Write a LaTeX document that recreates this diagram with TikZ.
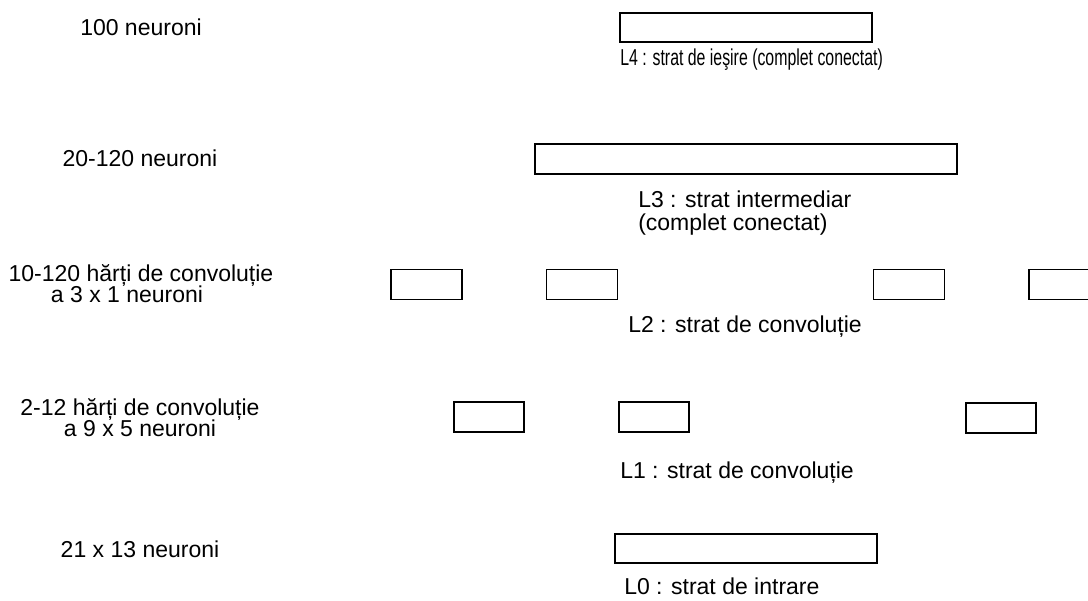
\documentclass[tikz,border=0pt]{standalone}
\usepackage{fontspec}
\setmainfont{Liberation Sans}
\begin{document}
\lineskiplimit=-20pt
\begin{tikzpicture}[x=0.75pt,y=-0.75pt,
  lbox/.style 2 args={draw=black, line width=0.95pt, inner sep=0pt,
    minimum width={#1*0.75pt}, minimum height={#2*0.75pt}},
  txt/.style={inner sep=0pt, font=\fontsize{17.25}{19}\selectfont},
  two/.style={txt, align=center, font=\fontsize{17.25}{15.75}\selectfont}]
\useasboundingbox (0,0) rectangle (1088,600);
\clip (0,0) rectangle (1088,600);
% left column
\node[txt, anchor=base] (n4) at (141,35) {100 neuroni};
\node[txt, anchor=base] (n3) at (140,166) {20-120 neuroni};
\node[two, anchor=north] (n2) at (141,264) {10-120 hărți de convoluție\\\hspace*{-21pt}a 3 x 1 neuroni};
\node[two, anchor=north] (n1) at (140,398) {2-12 hărți de convoluție\\a 9 x 5 neuroni};
\node[txt, anchor=base] (n0) at (140,557) {21 x 13 neuroni};
% L4
\node[lbox={252}{29}] (b4) at (746,27.5) {};
\node[txt, anchor=base west] (t4) at (620,65) {\scalebox{0.69}[1]{L4 : strat de ieşire (complet conectat)}};
% L3
\node[lbox={422}{30}] (b3) at (746,159) {};
\node[txt, anchor=north west, align=left, font=\fontsize{17.25}{16.9}\selectfont] (t3) at (638,191) {L3 : strat intermediar\\(complet conectat)};
% L2
\node[lbox={71}{30}] (b2a) at (426.5,284.5) {};
\node[lbox={71}{30}] (b2b) at (582,284.5) {};
\node[lbox={71}{30}] (b2c) at (909,284.5) {};
\node[lbox={71}{30}] (b2d) at (1064.5,284.5) {};
\node[txt, anchor=base west] (t2) at (628,332) {L2 : strat de convoluție};
% L1
\node[lbox={70}{30}] (b1a) at (489,417) {};
\node[lbox={70}{30}] (b1b) at (654,417) {};
\node[lbox={70}{30}] (b1c) at (1001,418) {};
\node[txt, anchor=base west] (t1) at (620,478) {L1 : strat de convoluție};
% L0
\node[lbox={262}{29}] (b0) at (746,548.5) {};
\node[txt, anchor=base west] (t0) at (624,594) {L0 : strat de intrare};
\end{tikzpicture}
\end{document}
